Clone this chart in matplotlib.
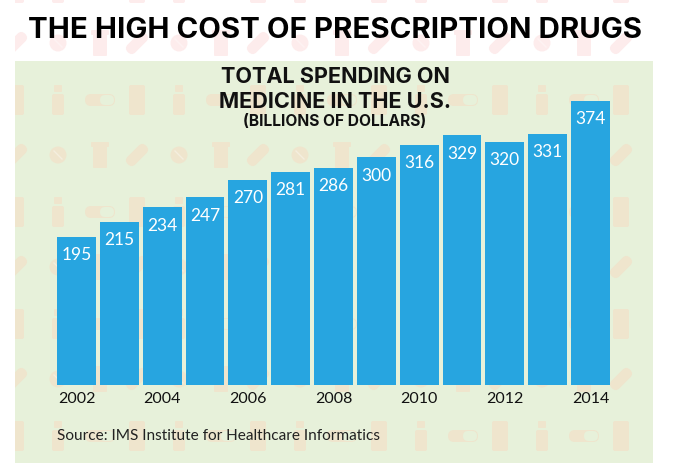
import matplotlib
matplotlib.use('Agg')
import matplotlib.pyplot as plt
from matplotlib.patches import Rectangle, FancyBboxPatch, Circle
from matplotlib.transforms import Affine2D

years = ['2002', '', '2004', '', '2006', '', '2008', '', '2010', '', '2012', '', '2014']
spending = [195, 215, 234, 247, 270, 281, 286, 300, 316, 329, 320, 331, 374]

W, H = 683, 463
PANEL = '#e7f1da'
TAN = '#efe5cd'
PINK = '#fdecec'
BLUE = '#27a5e0'


def rbox(bg, x0, y0, w, h, r, color, clip):
    p = FancyBboxPatch((x0, y0), w, h, boxstyle=f'round,pad=0,rounding_size={r}',
                       fc=color, ec='none')
    bg.add_patch(p)
    p.set_clip_path(clip)
    return p


def bottle_big(bg, x, y, color, clip):
    rbox(bg, x - 8, y - 15, 16, 30, 2, color, clip)


def bottle_small(bg, x, y, color, clip):
    rbox(bg, x - 6, y - 6, 12, 21, 2, color, clip)
    rbox(bg, x - 4, y - 15, 8, 7, 1, color, clip)


def pill_flat(bg, x, y, color, clip):
    rbox(bg, x - 15, y - 6, 30, 12, 6, color, clip)
    rbox(bg, x, y - 5, 14, 10, 5, PANEL, clip)


def jar(bg, x, y, color, clip):
    rbox(bg, x - 7, y - 9, 14, 22, 1, color, clip)
    rbox(bg, x - 9, y - 13, 18, 5, 1, color, clip)


def tablet(bg, x, y, color, clip):
    c = Circle((x, y), 8.5, fc=color, ec='none')
    bg.add_patch(c)
    c.set_clip_path(clip)
    bg.plot([x - 4, x + 4], [y - 4, y + 4], color='white', alpha=0.35, lw=1, clip_path=clip)


def pill_tilt(bg, x, y, color, clip):
    rot = Affine2D().rotate_deg_around(x, y, -45) + bg.transData
    p = FancyBboxPatch((x - 13, y - 5.5), 26, 11, boxstyle='round,pad=0,rounding_size=5.5',
                       fc=color, ec='none', transform=rot)
    bg.add_patch(p)
    p.set_clip_path(clip)


def icon_row(bg, y, shapes, color, clip):
    # the pattern repeats every 121 px across the page
    start = [16, 58, 100]
    for k in range(-1, 6):
        for x0, shape in zip(start, shapes):
            shape(bg, x0 + 121 * k, y, color, clip)


fig = plt.figure(figsize=(W / 100, H / 100), dpi=100, facecolor='white')

bg = fig.add_axes([0, 0, 1, 1])
bg.set_xlim(0, W)
bg.set_ylim(H, 0)
bg.axis('off')

row_a = [bottle_big, bottle_small, pill_flat]
row_b = [pill_tilt, tablet, jar]

top_clip = Rectangle((15, 0), 638, 61, transform=bg.transData)
icon_row(bg, -12, row_a, PINK, top_clip)
icon_row(bg, 43, row_b, PINK, top_clip)

bg.add_patch(Rectangle((15, 61), 638, 402, fc=PANEL, ec='none'))

panel_clip = Rectangle((15, 61), 638, 402, transform=bg.transData)
for y in [100, 212, 324, 436]:
    icon_row(bg, y, row_a, TAN, panel_clip)
for y in [155, 267, 379]:
    icon_row(bg, y, row_b, TAN, panel_clip)

fig.text(335 / W, 1 - 31 / H, 'THE HIGH COST OF PRESCRIPTION DRUGS', family='Inter',
         fontweight='bold', fontsize=21.2, color='black', ha='center', va='center')
fig.text(335 / W, 1 - 77 / H, 'TOTAL SPENDING ON', family='Inter', fontweight='bold',
         fontsize=15.6, color='#111111', ha='center', va='center')
fig.text(335 / W, 1 - 102 / H, 'MEDICINE IN THE U.S.', family='Inter', fontweight='bold',
         fontsize=15.6, color='#111111', ha='center', va='center')
fig.text(335 / W, 1 - 122 / H, '(BILLIONS OF DOLLARS)', family='Inter', fontweight='bold',
         fontsize=11.2, color='#111111', ha='center', va='center')
fig.text(57 / W, 1 - 436 / H, 'Source: IMS Institute for Healthcare Informatics', family='Lato',
         fontsize=11.1, color='#222222', ha='left', va='center')

# bars sit in their own axes, bottom at y=385 and tallest bar top at y=101
ax = fig.add_axes([57 / W, 1 - 385 / H, 553 / W, 284 / H])
ax.patch.set_alpha(0)
xs = list(range(len(spending)))
bars = ax.bar(xs, spending, width=0.91, color=BLUE)
ax.bar_label(bars, padding=-19, color='white', family='Lato', fontsize=12.5)
ax.set_xlim(-0.455, 12.455)
ax.set_ylim(0, max(spending))
ax.set_yticks([])
ax.set_xticks(xs)
ax.set_xticklabels(years, family='Lato', fontsize=11.5, color='#111111')
ax.tick_params(axis='x', length=0, pad=5)
for s in ax.spines.values():
    s.set_visible(False)

fig.savefig('out.png', dpi=100)
